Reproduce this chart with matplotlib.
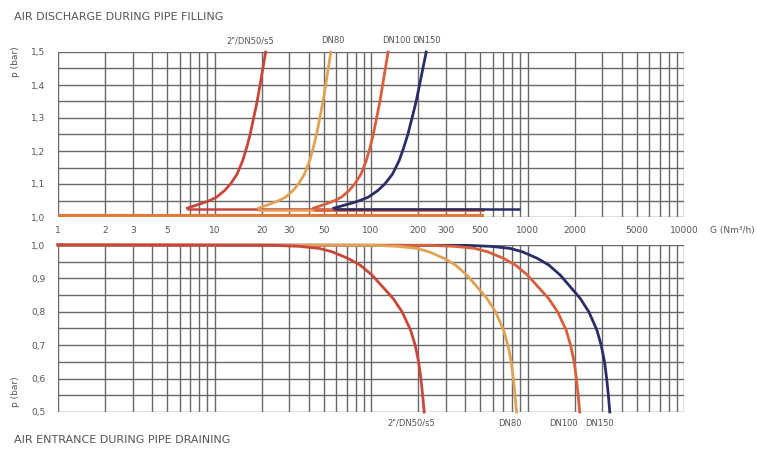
import matplotlib
matplotlib.use("Agg")
import matplotlib.pyplot as plt
import matplotlib.transforms as mtransforms
import numpy as np

# ---------------- data ----------------
series_names = ['2"/DN50/s5', 'DN80', 'DN100', 'DN150']
series_colors = ['#c8463a', '#e2a255', '#d9603a', '#2a2d66']

# Air discharge during pipe filling (top panel)
fill_p_levels = [1.027, 1.035, 1.042, 1.05, 1.06, 1.08, 1.10, 1.13, 1.17, 1.21,
                 1.25, 1.30, 1.35, 1.42, 1.50]
fill_dn50_G = [6.71, 7.55, 8.38, 9.29, 10.30, 11.59, 12.66, 13.94, 15.12, 16.04,
               16.89, 17.78, 18.73, 19.87, 21.23]
fill_dn80_G = [19.15, 21.35, 23.47, 25.84, 28.44, 31.71, 34.40, 37.58, 40.52, 42.79,
               44.86, 47.05, 49.39, 52.08, 55.41]
fill_dn100_G = [43.12, 48.24, 53.18, 58.70, 64.70, 72.36, 78.73, 86.29, 93.17, 98.53,
                103.4, 108.6, 114.0, 120.6, 128.5]
fill_dn150_G = [57.92, 66.64, 75.21, 85.03, 95.96, 110.4, 122.4, 137.2, 151.0, 161.8,
                171.9, 182.9, 194.3, 208.3, 225.3]

# flat lower branches in top panel
tail_G_start = [6.7, 19.1, 43.1, 57.9]
tail_G_end = [530, 530, 530, 890]
tail_p = [1.025, 1.022, 1.02, 1.024]
base_G = [1, 530]
base_p = [1.004, 1.004]

# Air entrance during pipe draining (bottom panel)
drain_p_levels = [1.0, 0.999, 0.996, 0.99, 0.98, 0.96, 0.94, 0.91, 0.88, 0.84, 0.80,
                  0.745, 0.70, 0.65, 0.60, 0.55, 0.50]
drain_dn50_G = [1, 23.88, 34.56, 46.42, 56.23, 71.25, 85.03, 101.5, 115.9, 138.4, 158.0,
                179.1, 191.5, 201.6, 208.3, 213.8, 218.7]
drain_dn80_G = [1, 103.8, 147.3, 195.1, 233.9, 292.9, 346.6, 410.1, 465.3, 550.6, 624.6,
                703.8, 749.4, 787.4, 812.3, 832.9, 850.4]
drain_dn100_G = [1, 235.4, 340.5, 457.3, 554.1, 702.0, 837.9, 1000, 1142, 1363, 1557,
                 1766, 1886, 1987, 2053, 2108, 2154]
drain_dn150_G = [1, 409.5, 581.4, 769.6, 923.4, 1156, 1368, 1618, 1836, 2173, 2465,
                 2777, 2957, 3107, 3205, 3287, 3355]

x_ticks = [1, 2, 3, 5, 10, 20, 30, 50, 100, 200, 300, 500, 1000, 2000, 5000, 10000]
top_yticks = [1.0, 1.1, 1.2, 1.3, 1.4, 1.5]
bot_yticks = [0.5, 0.6, 0.7, 0.8, 0.9, 1.0]

title_top = "AIR DISCHARGE DURING PIPE FILLING"
title_bot = "AIR ENTRANCE DURING PIPE DRAINING"
x_label = "G (Nm³/h)"
y_label = "p (bar)"

top_label_x = [17, 57, 145, 225]
bot_label_x = [180, 770, 1700, 2900]

# ---------------- figure ----------------
W, H = 757, 449
fig = plt.figure(figsize=(W / 100, H / 100), dpi=100)
fig.patch.set_facecolor('white')
txt_color = '#555555'
grid_color = '#686868'

def px_axes(l, t, r, b):
    return fig.add_axes([l / W, 1 - b / H, (r - l) / W, (b - t) / H])

ax_top = px_axes(58, 52, 684, 217)
ax_bot = px_axes(58, 245, 684, 412)

minor_x = []
for dec in [1, 10, 100, 1000]:
    for k in range(1, 10):
        minor_x.append(dec * k)
minor_x.append(10000)

def style(ax, ylo, yhi):
    ax.set_xscale('log')
    ax.set_xlim(1, 10000)
    ax.set_ylim(ylo, yhi)
    ax.set_facecolor('white')
    for xv in minor_x:
        ax.axvline(xv, color=grid_color, lw=1.0, zorder=1)
    for yv in np.arange(ylo, yhi + 1e-9, 0.05):
        ax.axhline(yv, color=grid_color, lw=1.0, zorder=1)
    for s in ax.spines.values():
        s.set_visible(False)
    ax.tick_params(axis='both', which='both', length=0)
    ax.set_xticks([])
    ax.minorticks_off()

style(ax_top, 1.0, 1.5)
style(ax_bot, 0.5, 1.0)

ax_top.set_yticks(top_yticks)
ax_top.set_yticklabels([f"{v:.1f}".replace('.', ',') for v in top_yticks],
                       fontsize=6.5, color=txt_color)
ax_bot.set_yticks(bot_yticks)
ax_bot.set_yticklabels([f"{v:.1f}".replace('.', ',') for v in bot_yticks],
                       fontsize=6.5, color=txt_color)
for ax in (ax_top, ax_bot):
    ax.tick_params(axis='y', pad=9)

lw = 2.0
# top panel curves
ax_top.plot(base_G, base_p, color='#e07a3c', lw=3.0, zorder=3, solid_capstyle='butt')
fill_G = [fill_dn50_G, fill_dn80_G, fill_dn100_G, fill_dn150_G]
for i in range(4):
    ax_top.plot([tail_G_start[i], tail_G_end[i]], [tail_p[i], tail_p[i]],
                color=series_colors[i], lw=1.8, zorder=3, solid_capstyle='butt')
for i in range(4):
    ax_top.plot(fill_G[i], fill_p_levels, color=series_colors[i], lw=lw, zorder=4,
                clip_on=False, solid_joinstyle='round')

# bottom panel curves
drain_G = [drain_dn50_G, drain_dn80_G, drain_dn100_G, drain_dn150_G]
for i in [3, 2, 1, 0]:
    ax_bot.plot(drain_G[i], drain_p_levels, color=series_colors[i], lw=lw, zorder=4,
                clip_on=False, solid_joinstyle='round')

# curve labels
tr_top = mtransforms.blended_transform_factory(ax_top.transData, ax_top.transAxes)
for name, xv in zip(series_names, top_label_x):
    ax_top.text(xv, 1.04, name, transform=tr_top, fontsize=6, color=txt_color,
                ha='center', va='bottom')
tr_bot = mtransforms.blended_transform_factory(ax_bot.transData, ax_bot.transAxes)
for name, xv in zip(series_names, bot_label_x):
    ax_bot.text(xv, -0.04, name, transform=tr_bot, fontsize=6, color=txt_color,
                ha='center', va='top')

# x tick labels between panels
y_mid = 1 - 231 / H
for xv in x_ticks:
    xp = ax_top.transData.transform((xv, 1.0))[0]
    fig.text(xp / W, y_mid, str(xv), fontsize=6.5, color=txt_color,
             ha='center', va='center')
fig.text(732 / W, y_mid, x_label, fontsize=6.5, color=txt_color,
         ha='center', va='center')

# y labels
fig.text(16 / W, 1 - 62 / H, y_label, rotation=90, fontsize=6.5,
         color=txt_color, ha='center', va='center')
fig.text(16 / W, 1 - 392 / H, y_label, rotation=90, fontsize=6.5,
         color=txt_color, ha='center', va='center')

# titles
fig.text(14 / W, 1 - 17 / H, title_top, fontsize=8, color=txt_color,
         ha='left', va='center')
fig.text(14 / W, 1 - 440 / H, title_bot, fontsize=8, color=txt_color,
         ha='left', va='center')

fig.savefig('out.png', dpi=100, facecolor='white')
